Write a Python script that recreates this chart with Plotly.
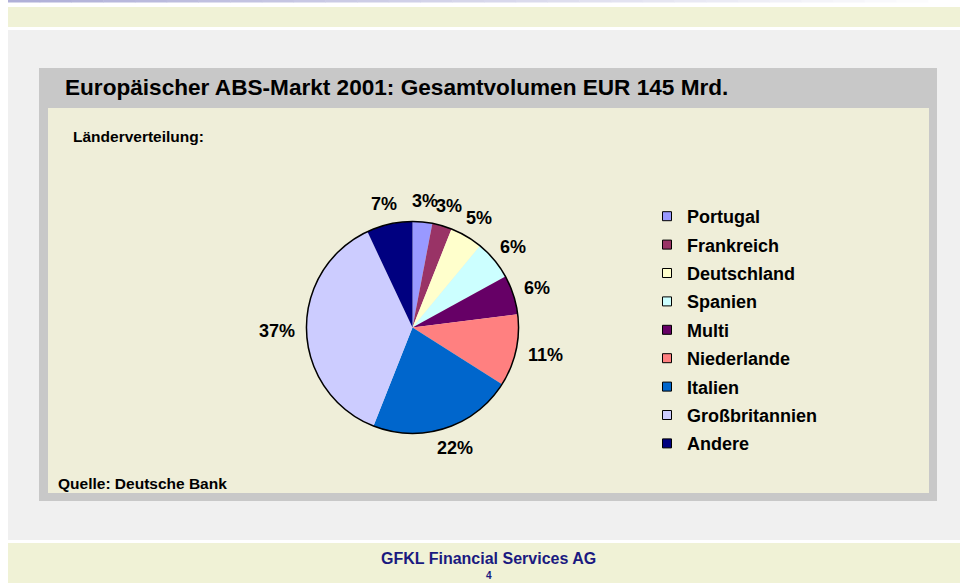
import math
import plotly.graph_objects as go

# ---- data ----
countries = ["Portugal", "Frankreich", "Deutschland", "Spanien", "Multi",
             "Niederlande", "Italien", "Großbritannien", "Andere"]
shares = [3, 3, 5, 6, 6, 11, 22, 37, 7]
colors = ["#9999FF", "#993366", "#FFFFCC", "#CCFFFF", "#660066",
          "#FF8080", "#0066CC", "#CCCCFF", "#000080"]

title_text = "Europäischer ABS-Markt 2001: Gesamtvolumen EUR 145 Mrd."
subtitle_text = "Länderverteilung:"
source_text = "Quelle: Deutsche Bank"
footer_text = "GFKL Financial Services AG"
page_text = "4"

W, H = 960, 583
FONT = "Liberation Sans, Arial, sans-serif"
LABEL_SIZE = 18


def px(x):
    return x / W


def py(y):
    return 1 - y / H


def rect(x0, y0, x1, y1, color):
    return dict(type="rect", xref="paper", yref="paper", layer="below",
                x0=px(x0), x1=px(x1), y0=py(y1), y1=py(y0),
                fillcolor=color, line=dict(width=0))


shapes = []
# top gradient line
n = 30
for i in range(n):
    t = i / (n - 1)
    r = int(176 + (255 - 176) * t)
    g = int(176 + (255 - 176) * t)
    b = int(216 + (255 - 216) * t)
    x0 = 8 + (952 * i / n)
    x1 = 8 + (952 * (i + 1) / n)
    shapes.append(rect(x0, 0, x1 + 0.5, 2.5, f"rgb({r},{g},{b})"))
shapes.append(rect(8, 7, 960, 27, "#F0F2D6"))      # top cream band
shapes.append(rect(8, 30, 960, 540, "#F0F0F0"))    # page gray
shapes.append(rect(39, 68, 937, 501, "#C8C8C8"))   # gray box
shapes.append(rect(48, 108, 929, 493, "#EFEED9"))  # inner cream
shapes.append(rect(8, 543, 960, 583, "#F0F2D6"))   # footer band

# pie geometry
cx, cy, rad = 412.5, 327.5, 106
dom = dict(x=[px(cx - rad), px(cx + rad)], y=[py(cy + rad), py(cy - rad)])

fig = go.Figure()
fig.add_trace(go.Pie(
    labels=countries, values=shares, sort=False, direction="clockwise",
    rotation=0, domain=dom, showlegend=False, hoverinfo="skip",
    marker=dict(colors=colors, line=dict(width=0)),
    textinfo="none",
))
fig.add_trace(go.Pie(
    labels=["outline"], values=[1], domain=dom, showlegend=False,
    hoverinfo="skip", textinfo="none",
    marker=dict(colors=["rgba(0,0,0,0)"], line=dict(color="black", width=1.5)),
))

for name, col in zip(countries, colors):
    fig.add_trace(go.Scatter(
        x=[None], y=[None], mode="markers", name=name, legendgroup=name,
        marker=dict(symbol="square", size=9, color=col,
                    line=dict(color="black", width=1)),
    ))

annotations = [
    dict(text=title_text, x=px(63), y=py(88), xanchor="left", yanchor="middle",
         font=dict(family=FONT, size=22.6, color="black", weight="bold")),
    dict(text=subtitle_text, x=px(71), y=py(136), xanchor="left", yanchor="middle",
         font=dict(family=FONT, size=15.5, color="black", weight="bold")),
    dict(text=source_text, x=px(56), y=py(483), xanchor="left", yanchor="middle",
         font=dict(family=FONT, size=15.5, color="black", weight="bold")),
    dict(text=footer_text, x=px(488.5), y=py(558), xanchor="center", yanchor="middle",
         font=dict(family=FONT, size=16, color="#1A1A80", weight="bold")),
    dict(text=page_text, x=px(488.5), y=py(575), xanchor="center", yanchor="middle",
         font=dict(family=FONT, size=10, color="#1A1A80", weight="bold")),
]

# percentage labels placed outside each slice, at the slice's mid angle
total = sum(shares)
cum = 0
for s in shares:
    pct = round(100 * s / total)
    txt = f"{pct}%"
    mid = 2 * math.pi * (cum + s / 2) / total
    cum += s
    dx, dy = math.sin(mid), math.cos(mid)
    w = (len(str(pct)) * 0.556 + 0.889) * LABEL_SIZE
    h = LABEL_SIZE
    lx = cx + (rad + 12) * dx + w / 2 * dx
    ly = cy - ((rad + 12) * dy + h / 2 * dy)
    annotations.append(dict(text=txt, x=px(lx), y=py(ly), xanchor="center",
                            yanchor="middle",
                            font=dict(family=FONT, size=LABEL_SIZE, color="black",
                                      weight="bold")))

for a in annotations:
    a.update(xref="paper", yref="paper", showarrow=False)

fig.update_layout(
    width=W, height=H, margin=dict(l=0, r=0, t=0, b=0),
    paper_bgcolor="white", plot_bgcolor="rgba(0,0,0,0)",
    xaxis=dict(visible=False), yaxis=dict(visible=False),
    shapes=shapes, annotations=annotations,
    legend=dict(x=px(647), y=py(198), xanchor="left", yanchor="top",
                bgcolor="rgba(0,0,0,0)", tracegroupgap=2,
                font=dict(family=FONT, size=LABEL_SIZE, color="black", weight="bold")),
    showlegend=True,
)

fig.write_html("out.html", config={"displayModeBar": False},
               post_script="document.body.style.margin='0';")
